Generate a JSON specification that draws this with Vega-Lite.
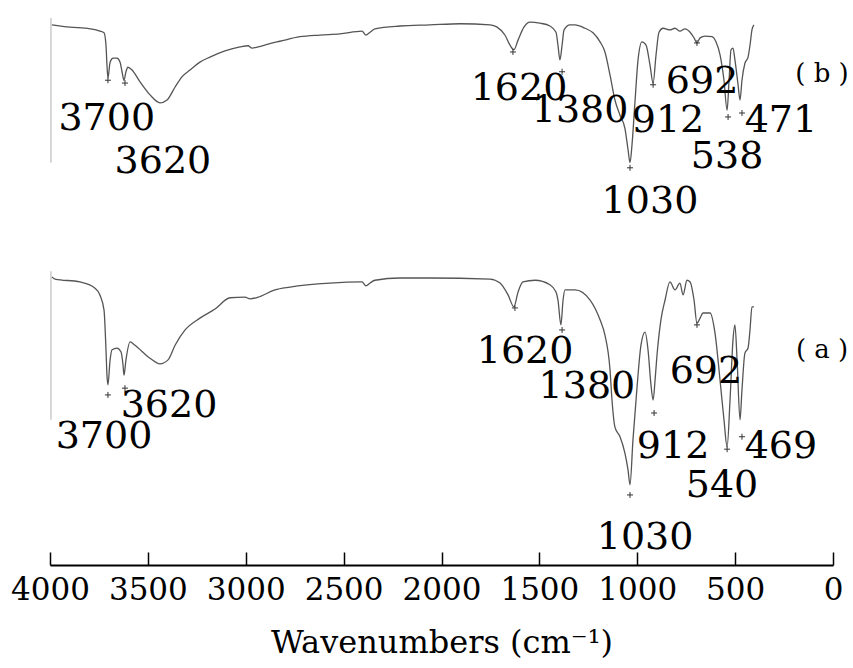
{
  "$schema": "https://vega.github.io/schema/vega-lite/v6.json",
  "autosize": {"type": "none"},
  "width": 783,
  "height": 565,
  "padding": {"left": 50, "top": 0, "right": 20, "bottom": 103},
  "background": "white",
  "config": {"view": {"stroke": null}},
  "datasets": {
    "spectra": [
      {"s":"b","wn":3990,"T":95.6},{"s":"b","wn":3898,"T":95.2},{"s":"b","wn":3796,"T":94.9},{"s":"b","wn":3745,"T":94.5},{"s":"b","wn":3724,"T":94.2},{"s":"b","wn":3714,"T":92.0},{"s":"b","wn":3709,"T":88.5},{"s":"b","wn":3704,"T":86.2},{"s":"b","wn":3693,"T":89.0},{"s":"b","wn":3678,"T":89.7},{"s":"b","wn":3658,"T":89.7},{"s":"b","wn":3642,"T":89.0},{"s":"b","wn":3632,"T":87.3},{"s":"b","wn":3622,"T":85.8},{"s":"b","wn":3612,"T":87.3},{"s":"b","wn":3602,"T":88.1},{"s":"b","wn":3581,"T":87.6},{"s":"b","wn":3540,"T":85.5},{"s":"b","wn":3489,"T":83.2},{"s":"b","wn":3438,"T":81.8},{"s":"b","wn":3402,"T":82.3},{"s":"b","wn":3361,"T":84.6},{"s":"b","wn":3326,"T":86.4},{"s":"b","wn":3285,"T":87.6},{"s":"b","wn":3234,"T":89.0},{"s":"b","wn":3183,"T":89.9},{"s":"b","wn":3106,"T":91.0},{"s":"b","wn":3029,"T":91.7},{"s":"b","wn":2988,"T":91.9},{"s":"b","wn":2968,"T":91.5},{"s":"b","wn":2937,"T":91.7},{"s":"b","wn":2886,"T":92.2},{"s":"b","wn":2825,"T":92.7},{"s":"b","wn":2723,"T":93.5},{"s":"b","wn":2621,"T":93.8},{"s":"b","wn":2519,"T":94.0},{"s":"b","wn":2406,"T":94.5},{"s":"b","wn":2386,"T":93.8},{"s":"b","wn":2365,"T":94.3},{"s":"b","wn":2340,"T":94.9},{"s":"b","wn":2212,"T":95.4},{"s":"b","wn":2059,"T":95.6},{"s":"b","wn":1905,"T":95.8},{"s":"b","wn":1752,"T":95.6},{"s":"b","wn":1716,"T":95.2},{"s":"b","wn":1676,"T":93.8},{"s":"b","wn":1650,"T":92.0},{"s":"b","wn":1630,"T":91.2},{"s":"b","wn":1609,"T":92.9},{"s":"b","wn":1579,"T":95.2},{"s":"b","wn":1548,"T":96.1},{"s":"b","wn":1497,"T":95.9},{"s":"b","wn":1446,"T":95.4},{"s":"b","wn":1415,"T":94.3},{"s":"b","wn":1405,"T":92.0},{"s":"b","wn":1395,"T":89.4},{"s":"b","wn":1384,"T":92.0},{"s":"b","wn":1374,"T":94.7},{"s":"b","wn":1344,"T":95.6},{"s":"b","wn":1318,"T":95.6},{"s":"b","wn":1267,"T":95.0},{"s":"b","wn":1226,"T":94.2},{"s":"b","wn":1190,"T":92.6},{"s":"b","wn":1165,"T":90.8},{"s":"b","wn":1139,"T":86.7},{"s":"b","wn":1114,"T":82.3},{"s":"b","wn":1088,"T":79.6},{"s":"b","wn":1063,"T":77.3},{"s":"b","wn":1047,"T":73.5},{"s":"b","wn":1037,"T":71.2},{"s":"b","wn":1027,"T":74.3},{"s":"b","wn":1011,"T":82.3},{"s":"b","wn":996,"T":89.4},{"s":"b","wn":976,"T":92.6},{"s":"b","wn":955,"T":92.0},{"s":"b","wn":935,"T":88.5},{"s":"b","wn":919,"T":85.3},{"s":"b","wn":904,"T":90.3},{"s":"b","wn":889,"T":94.3},{"s":"b","wn":868,"T":95.0},{"s":"b","wn":833,"T":94.7},{"s":"b","wn":807,"T":95.0},{"s":"b","wn":782,"T":94.5},{"s":"b","wn":756,"T":94.9},{"s":"b","wn":730,"T":94.3},{"s":"b","wn":710,"T":93.3},{"s":"b","wn":695,"T":92.4},{"s":"b","wn":679,"T":93.3},{"s":"b","wn":654,"T":93.6},{"s":"b","wn":618,"T":93.5},{"s":"b","wn":598,"T":92.6},{"s":"b","wn":577,"T":90.3},{"s":"b","wn":557,"T":85.8},{"s":"b","wn":541,"T":80.5},{"s":"b","wn":531,"T":85.8},{"s":"b","wn":521,"T":91.2},{"s":"b","wn":511,"T":91.5},{"s":"b","wn":501,"T":89.4},{"s":"b","wn":485,"T":85.0},{"s":"b","wn":475,"T":82.3},{"s":"b","wn":465,"T":85.8},{"s":"b","wn":450,"T":88.8},{"s":"b","wn":434,"T":89.9},{"s":"b","wn":424,"T":92.0},{"s":"b","wn":414,"T":94.7},{"s":"b","wn":404,"T":95.6},
      {"s":"a","wn":3990,"T":51.0},{"s":"a","wn":3974,"T":50.6},{"s":"a","wn":3847,"T":50.1},{"s":"a","wn":3770,"T":49.0},{"s":"a","wn":3745,"T":47.8},{"s":"a","wn":3724,"T":45.1},{"s":"a","wn":3714,"T":38.1},{"s":"a","wn":3709,"T":33.6},{"s":"a","wn":3704,"T":31.9},{"s":"a","wn":3693,"T":36.3},{"s":"a","wn":3683,"T":38.1},{"s":"a","wn":3658,"T":38.4},{"s":"a","wn":3637,"T":37.7},{"s":"a","wn":3627,"T":35.4},{"s":"a","wn":3622,"T":33.6},{"s":"a","wn":3612,"T":36.3},{"s":"a","wn":3591,"T":39.5},{"s":"a","wn":3566,"T":38.9},{"s":"a","wn":3489,"T":36.6},{"s":"a","wn":3438,"T":35.6},{"s":"a","wn":3397,"T":36.3},{"s":"a","wn":3361,"T":38.9},{"s":"a","wn":3310,"T":41.6},{"s":"a","wn":3234,"T":43.7},{"s":"a","wn":3157,"T":45.3},{"s":"a","wn":3080,"T":47.3},{"s":"a","wn":3004,"T":47.4},{"s":"a","wn":2978,"T":47.1},{"s":"a","wn":2937,"T":47.4},{"s":"a","wn":2851,"T":48.7},{"s":"a","wn":2774,"T":49.2},{"s":"a","wn":2570,"T":49.9},{"s":"a","wn":2406,"T":50.1},{"s":"a","wn":2386,"T":49.4},{"s":"a","wn":2365,"T":49.9},{"s":"a","wn":2340,"T":50.4},{"s":"a","wn":2212,"T":50.8},{"s":"a","wn":2059,"T":50.8},{"s":"a","wn":1752,"T":50.6},{"s":"a","wn":1701,"T":49.9},{"s":"a","wn":1660,"T":47.8},{"s":"a","wn":1630,"T":45.7},{"s":"a","wn":1609,"T":48.3},{"s":"a","wn":1584,"T":50.1},{"s":"a","wn":1522,"T":50.4},{"s":"a","wn":1446,"T":49.6},{"s":"a","wn":1415,"T":48.3},{"s":"a","wn":1405,"T":46.9},{"s":"a","wn":1390,"T":42.5},{"s":"a","wn":1379,"T":46.9},{"s":"a","wn":1369,"T":48.7},{"s":"a","wn":1318,"T":48.7},{"s":"a","wn":1241,"T":46.9},{"s":"a","wn":1190,"T":43.4},{"s":"a","wn":1165,"T":40.7},{"s":"a","wn":1139,"T":34.5},{"s":"a","wn":1129,"T":29.2},{"s":"a","wn":1114,"T":24.4},{"s":"a","wn":1088,"T":22.7},{"s":"a","wn":1063,"T":19.8},{"s":"a","wn":1047,"T":16.8},{"s":"a","wn":1037,"T":14.2},{"s":"a","wn":1022,"T":22.1},{"s":"a","wn":1001,"T":31.5},{"s":"a","wn":981,"T":38.9},{"s":"a","wn":960,"T":41.2},{"s":"a","wn":945,"T":38.1},{"s":"a","wn":930,"T":31.9},{"s":"a","wn":919,"T":29.2},{"s":"a","wn":909,"T":32.7},{"s":"a","wn":899,"T":37.2},{"s":"a","wn":879,"T":43.4},{"s":"a","wn":858,"T":46.9},{"s":"a","wn":833,"T":50.1},{"s":"a","wn":807,"T":48.7},{"s":"a","wn":782,"T":49.9},{"s":"a","wn":766,"T":47.8},{"s":"a","wn":746,"T":50.4},{"s":"a","wn":730,"T":50.1},{"s":"a","wn":710,"T":46.9},{"s":"a","wn":695,"T":42.8},{"s":"a","wn":679,"T":43.7},{"s":"a","wn":664,"T":44.6},{"s":"a","wn":628,"T":44.6},{"s":"a","wn":603,"T":41.1},{"s":"a","wn":577,"T":32.7},{"s":"a","wn":557,"T":25.7},{"s":"a","wn":541,"T":20.9},{"s":"a","wn":526,"T":29.2},{"s":"a","wn":511,"T":39.8},{"s":"a","wn":501,"T":42.5},{"s":"a","wn":490,"T":36.3},{"s":"a","wn":475,"T":25.7},{"s":"a","wn":465,"T":31.0},{"s":"a","wn":450,"T":37.5},{"s":"a","wn":434,"T":38.4},{"s":"a","wn":424,"T":41.6},{"s":"a","wn":414,"T":45.7},{"s":"a","wn":404,"T":45.7}
    ],
    "edges": [
      {"s":"b","wn":3995,"T1":96.8,"T2":71.2},
      {"s":"a","wn":3995,"T1":52.0,"T2":25.7}
    ],
    "peaks": [
      {"s":"b","wn":3704,"T":85.8},{"s":"b","wn":3617,"T":85.3},{"s":"b","wn":1635,"T":90.8},{"s":"b","wn":1384,"T":87.3},{"s":"b","wn":1037,"T":70.3},{"s":"b","wn":919,"T":85.0},{"s":"b","wn":695,"T":92.4},{"s":"b","wn":536,"T":79.3},{"s":"b","wn":465,"T":80.0},
      {"s":"a","wn":3704,"T":30.1},{"s":"a","wn":3617,"T":31.3},{"s":"a","wn":1625,"T":45.5},{"s":"a","wn":1384,"T":41.6},{"s":"a","wn":1037,"T":12.4},{"s":"a","wn":914,"T":26.9},{"s":"a","wn":695,"T":42.5},{"s":"a","wn":541,"T":20.5},{"s":"a","wn":465,"T":22.7}
    ],
    "labels": [
      {"s":"b","text":"3700","wn":3710,"T":77.0},{"s":"b","text":"3620","wn":3423,"T":69.4},{"s":"b","text":"1620","wn":1604,"T":82.3},{"s":"b","text":"1380","wn":1292,"T":78.4},{"s":"b","text":"912","wn":843,"T":76.6},{"s":"b","text":"692","wn":669,"T":83.5},{"s":"b","text":"538","wn":541,"T":70.3},{"s":"b","text":"471","wn":266,"T":76.6},{"s":"b","text":"1030","wn":935,"T":62.3},
      {"s":"a","text":"3700","wn":3724,"T":20.7},{"s":"a","text":"3620","wn":3392,"T":26.2},{"s":"a","text":"1620","wn":1573,"T":35.8},{"s":"a","text":"1380","wn":1257,"T":29.6},{"s":"a","text":"692","wn":649,"T":32.2},{"s":"a","text":"912","wn":817,"T":18.9},{"s":"a","text":"469","wn":266,"T":18.9},{"s":"a","text":"540","wn":567,"T":12.0},{"s":"a","text":"1030","wn":960,"T":2.8}
    ],
    "tags": [
      {"text":"( b )","wn":56,"T":85.5},
      {"text":"( a )","wn":56,"T":36.6}
    ]
  },
  "encoding": {
    "x": {
      "field": "wn", "type": "quantitative",
      "scale": {"domain": [4000, 0], "nice": false, "zero": false},
      "axis": {
        "orient": "bottom",
        "values": [4000, 3500, 3000, 2500, 2000, 1500, 1000, 500, 0],
        "format": "d",
        "grid": false,
        "domainColor": "#000", "domainWidth": 2,
        "tickColor": "#000", "tickWidth": 1.5, "tickSize": -13,
        "labelFont": "DejaVu Serif", "labelFontSize": 31, "labelColor": "#000",
        "labelPadding": 23, "labelFlush": false, "labelOverlap": false,
        "title": "Wavenumbers (cm\u207B\u00B9)",
        "titleFont": "DejaVu Serif", "titleFontSize": 32, "titleFontWeight": "normal", "titleColor": "#000",
        "titlePadding": 22
      }
    },
    "y": {
      "field": "T", "type": "quantitative",
      "scale": {"domain": [0, 100], "nice": false, "zero": false},
      "axis": null
    }
  },
  "layer": [
    {
      "data": {"name": "edges"},
      "mark": {"type": "rule", "color": "#b0b0b0", "strokeWidth": 1},
      "encoding": {"y": {"field": "T1", "type": "quantitative"}, "y2": {"field": "T2"}}
    },
    {
      "data": {"name": "spectra"},
      "mark": {"type": "line", "color": "#555", "strokeWidth": 1.3, "interpolate": "monotone"},
      "encoding": {"detail": {"field": "s"}}
    },
    {
      "data": {"name": "peaks"},
      "mark": {"type": "point", "shape": "M-1,0L1,0M0,-1L0,1", "filled": false, "color": "#333", "size": 36, "strokeWidth": 1, "opacity": 1}
    },
    {
      "data": {"name": "labels"},
      "mark": {"type": "text", "font": "DejaVu Serif", "fontSize": 38, "align": "center", "baseline": "alphabetic", "color": "#000"},
      "encoding": {"text": {"field": "text"}}
    },
    {
      "data": {"name": "tags"},
      "mark": {"type": "text", "font": "DejaVu Serif", "fontSize": 26, "align": "center", "baseline": "alphabetic", "color": "#000"},
      "encoding": {"text": {"field": "text"}}
    }
  ]
}
